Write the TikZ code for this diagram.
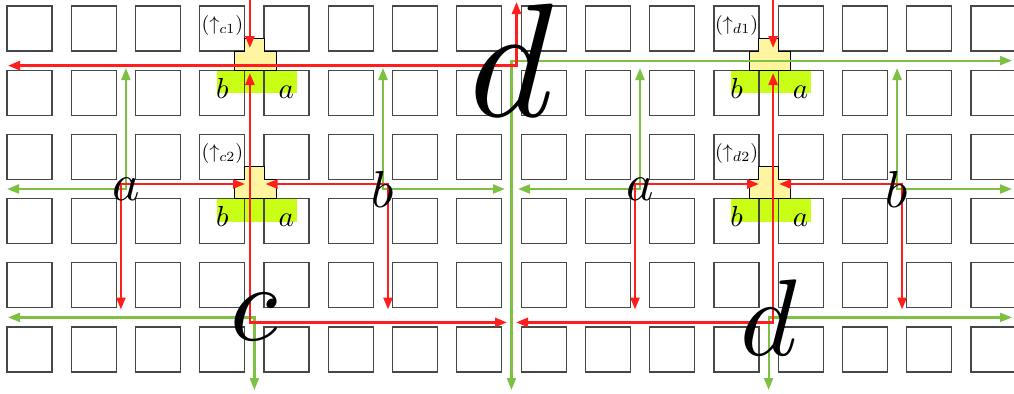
\documentclass[tikz,border=0pt]{standalone}
\usetikzlibrary{arrows.meta}
\definecolor{wirered}{RGB}{255,30,30}
\definecolor{wiregreen}{RGB}{125,193,66}
\definecolor{limegreen}{RGB}{200,255,20}
\definecolor{teeyellow}{RGB}{255,245,160}
\begin{document}
\begin{tikzpicture}[x=0.5pt,y=-0.5pt,
  >={Triangle[length=6pt,width=4.5pt]},
  sqbox/.style={draw=black!72,line width=0.6pt},
  tee/.style={draw=black,fill=teeyellow,line width=0.5pt},
  limebox/.style={fill=limegreen},
  redwire/.style={draw=wirered,line width=1.3pt},
  greenwire/.style={draw=wiregreen,line width=1.1pt},
  lbl/.style={inner sep=0pt,font=\fontsize{10}{12}\selectfont},
  smalll/.style={inner sep=0pt,anchor=base,scale=1.45},
  midl/.style={inner sep=0pt,scale=2.6},
  bigl/.style={inner sep=0pt,scale=5.45},
  hugel/.style={inner sep=0pt,scale=8.1},
  teeshape/.pic={\draw[tee] (-9.63,-13) -- (9.63,-13) -- (9.63,0) -- (22,0) -- (22,19.2) -- (-19.5,19.2) -- (-19.5,0) -- (-9.63,0) -- cycle;}
]
\useasboundingbox (0,0) rectangle (1014,393);
% lime boxes
\fill[limebox] (216.9,70.2) rectangle (296.9,93.2);
\fill[limebox] (216.9,198.6) rectangle (296.9,221.6);
\fill[limebox] (731.1,70.2) rectangle (811.1,93.2);
\fill[limebox] (731.1,198.6) rectangle (811.1,221.6);
% squares
\foreach \i in {0,...,15}{
  \foreach \j in {0,...,5}{
    \draw[sqbox] ({7+64.27*\i},{6+64.2*\j}) rectangle ++(45,45);
  }
}
% tee blocks
\pic at (254.4,51) {teeshape};
\pic at (254.4,179.4) {teeshape};
\pic at (768.6,51) {teeshape};
\pic at (768.6,179.4) {teeshape};
% labels
\node[lbl] (lc1) at (222.4,25) {$(\uparrow_{c1})$};
\node[lbl] (lc2) at (222.4,153.4) {$(\uparrow_{c2})$};
\node[lbl] (ld1) at (736.6,25) {$(\uparrow_{d1})$};
\node[lbl] (ld2) at (736.6,153.4) {$(\uparrow_{d2})$};
\node[smalll] (bc1) at (222.4,98.2) {$b$};
\node[smalll] (ac1) at (286.4,98.2) {$a$};
\node[smalll] (bc2) at (222.4,226.6) {$b$};
\node[smalll] (ac2) at (286.4,226.6) {$a$};
\node[smalll] (bd1) at (736.6,98.2) {$b$};
\node[smalll] (ad1) at (800.6,98.2) {$a$};
\node[smalll] (bd2) at (736.6,226.6) {$b$};
\node[smalll] (ad2) at (800.6,226.6) {$a$};
% green corners and ends
\coordinate (gA1) at (125.9,189);  \coordinate (gA1u) at (125.9,68);  \coordinate (gA1e) at (7,189);
\coordinate (gB1) at (383,189);    \coordinate (gB1u) at (383,68);    \coordinate (gB1e) at (505,189);
\coordinate (gA2) at (640,189);    \coordinate (gA2u) at (640,68);    \coordinate (gA2e) at (518,189);
\coordinate (gB2) at (897.1,189);  \coordinate (gB2u) at (897.1,68);  \coordinate (gB2e) at (1012,189);
\coordinate (gD)  at (511.5,60.6); \coordinate (gDe) at (1012,60.6);  \coordinate (gDd) at (511.5,390);
\coordinate (gC)  at (254.4,317.4);\coordinate (gCe) at (8,317.4);    \coordinate (gCd) at (254.4,390);
\coordinate (gD2) at (768.6,317.4);\coordinate (gD2e) at (1012,317.4);\coordinate (gD2d) at (768.6,390);
% red corners and ends
\coordinate (rA1) at (120.9,184);  \coordinate (rA1d) at (120.9,309.5); \coordinate (rA1e) at (245,184);
\coordinate (rB1) at (388,184);    \coordinate (rB1d) at (388,309.5);   \coordinate (rB1e) at (265.5,184);
\coordinate (rA2) at (635,184);    \coordinate (rA2d) at (635,309.5);   \coordinate (rA2e) at (759,184);
\coordinate (rB2) at (902.1,184);  \coordinate (rB2d) at (902.1,309.5); \coordinate (rB2e) at (779,184);
\coordinate (rC)  at (249.9,322.4);\coordinate (rCu) at (249.9,73);     \coordinate (rCe) at (507,322.4);
\coordinate (rD2) at (773.1,322.4);\coordinate (rD2u) at (773.1,73);    \coordinate (rD2e) at (516,322.4);
\coordinate (rD)  at (516.5,65.6); \coordinate (rDe) at (8,65.6);       \coordinate (rDu) at (516.5,2);
\coordinate (rT1s) at (249.9,0);   \coordinate (rT1e) at (249.9,48);
\coordinate (rT2s) at (773.1,0);   \coordinate (rT2e) at (773.1,48);
% green wires
\draw[greenwire,<->] (gA1u) -- (gA1) -- (gA1e);
\draw[greenwire,<->] (gB1u) -- (gB1) -- (gB1e);
\draw[greenwire,<->] (gA2u) -- (gA2) -- (gA2e);
\draw[greenwire,<->] (gB2u) -- (gB2) -- (gB2e);
\draw[greenwire,<->] (gDe) -- (gD) -- (gDd);
\draw[greenwire,<->] (gCe) -- (gC) -- (gCd);
\draw[greenwire,<->] (gD2e) -- (gD2) -- (gD2d);
% red wires
\draw[redwire,<->] (rA1d) -- (rA1) -- (rA1e);
\draw[redwire,<->] (rB1e) -- (rB1) -- (rB1d);
\draw[redwire,<->] (rA2d) -- (rA2) -- (rA2e);
\draw[redwire,<->] (rB2e) -- (rB2) -- (rB2d);
\draw[redwire,<->] (rCu) -- (rC) -- (rCe);
\draw[redwire,<->] (rD2u) -- (rD2) -- (rD2e);
\draw[redwire,<->] (rDe) -- (rD) -- (rDu);
\draw[redwire,->] (rT1s) -- (rT1e);
\draw[redwire,->] (rT2s) -- (rT2e);
% node letters
\node[midl] (a1) at (gA1) {$a$};
\node[midl] (b1) at (gB1) {$b$};
\node[midl] (a2) at (gA2) {$a$};
\node[midl] (b2) at (gB2) {$b$};
\node[bigl] (c) at (gC) {$c$};
\node[bigl] (d) at (gD2) {$d$};
\node[hugel] (D) at (gD) {$d$};
\end{tikzpicture}
\end{document}
